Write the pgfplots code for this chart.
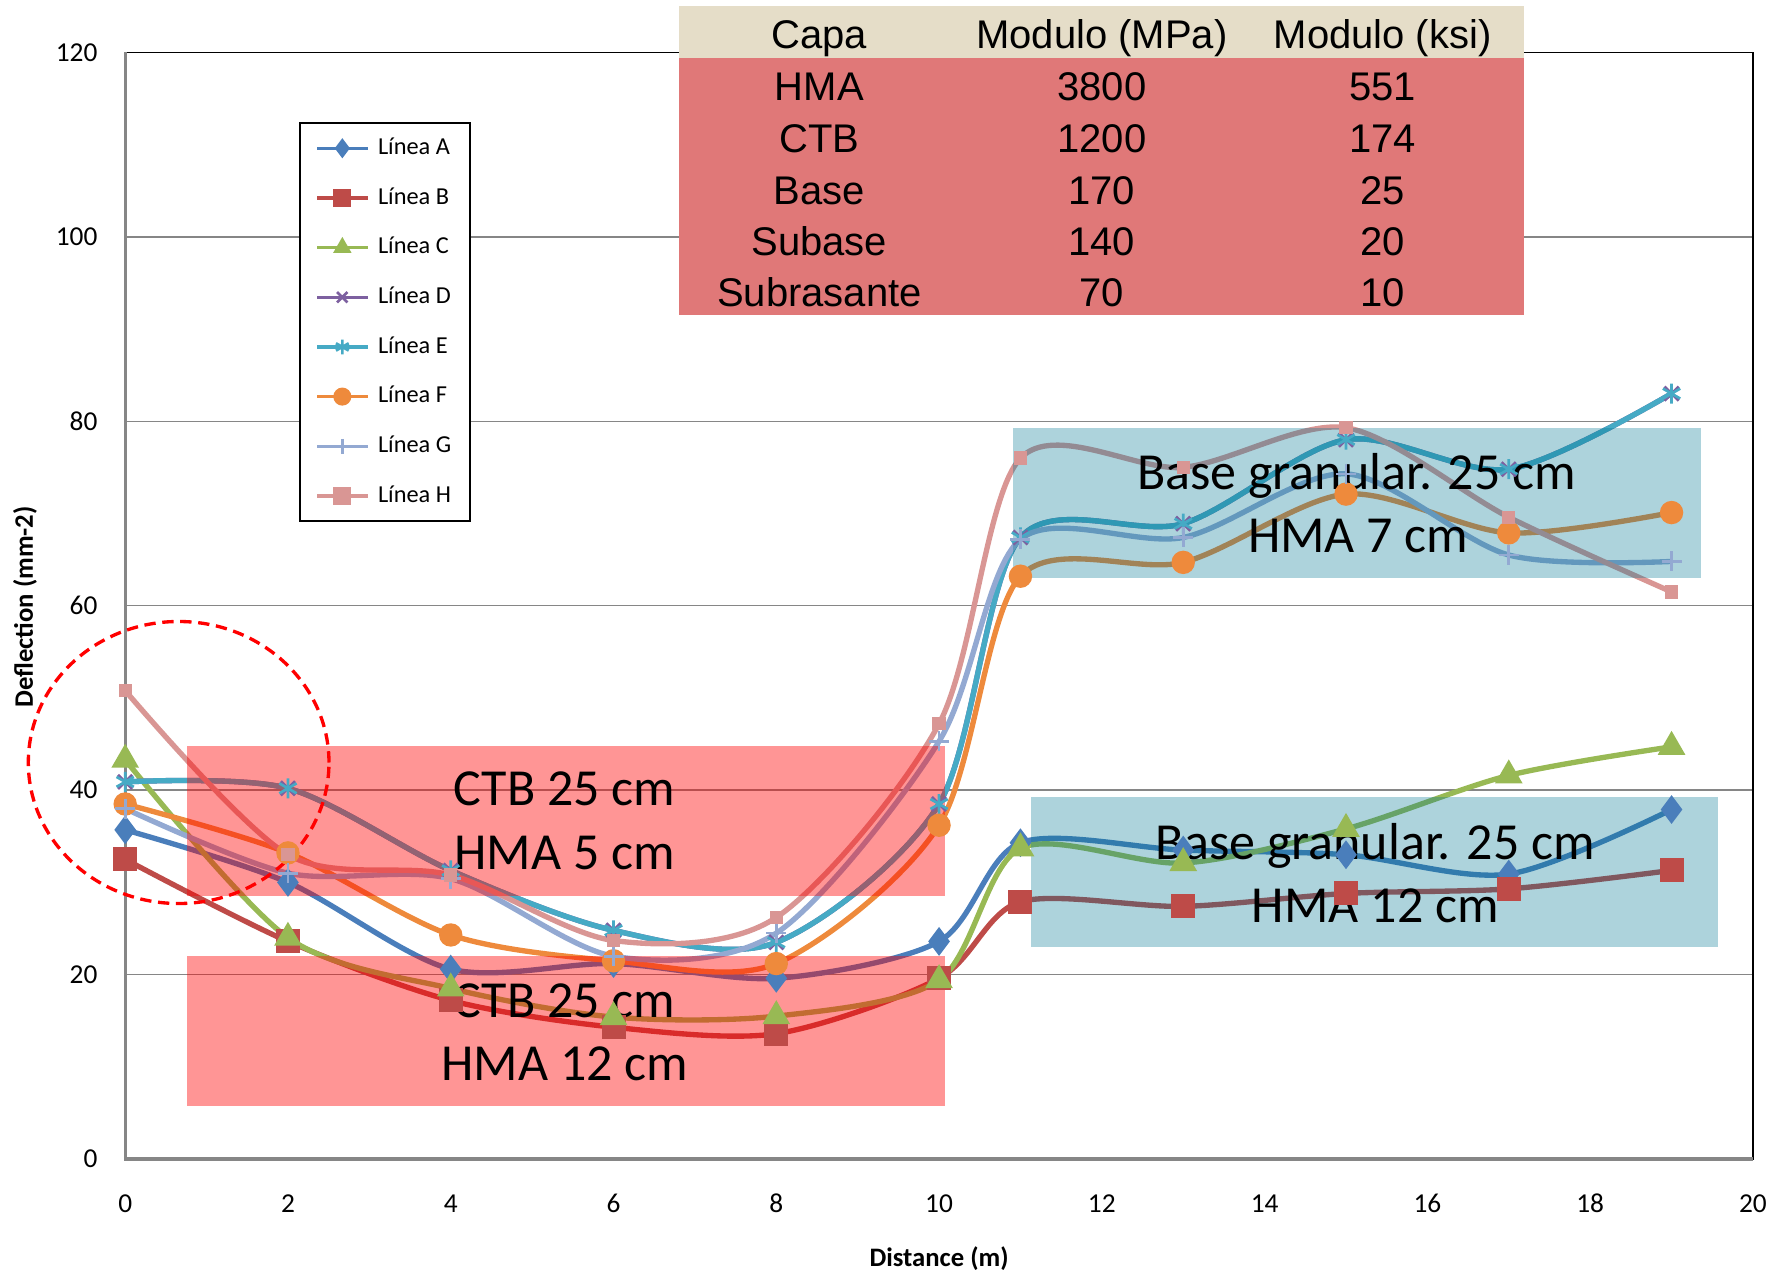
\documentclass[border=0pt]{standalone}
\usepackage{pgfplots}
\usepackage{pgfplotstable}
\pgfplotsset{compat=1.18}
\usepackage{fontspec}
\setmainfont{Carlito}
\newfontfamily\arialfont{Liberation Sans}
\definecolor{cA}{HTML}{4A7EBB}
\definecolor{cB}{HTML}{BE4B48}
\definecolor{cC}{HTML}{98B954}
\definecolor{cD}{HTML}{7D60A0}
\definecolor{cE}{HTML}{46AAC5}
\definecolor{cF}{HTML}{EE8A3C}
\definecolor{cG}{HTML}{93A9D2}
\definecolor{cH}{HTML}{D99694}
\definecolor{gridgray}{HTML}{868686}
\definecolor{boxblue}{RGB}{0,117,146}
\definecolor{tabhead}{HTML}{E5DDC8}
\definecolor{tabbody}{HTML}{E07878}

\pgfplotstableread{
x  A    B    C    D    E    F    G    H
0  35.7 32.5 43.3 40.9 40.9 38.5 38.0 50.8
2  30.0 23.6 24.0 40.2 40.2 33.2 31.0 33.0
4  20.6 17.2 18.5 31.3 31.3 24.3 30.4 30.8
6  21.2 14.3 15.4 24.8 24.8 21.5 22.0 23.7
8  19.6 13.6 15.5 23.5 23.5 21.2 24.5 26.2
10 23.6 19.6 19.4 38.5 38.5 36.2 45.3 47.2
11 34.3 27.9 33.7 67.4 67.4 63.2 67.2 76.0
13 33.5 27.4 32.1 68.9 68.9 64.7 67.4 75.0
15 33.0 28.8 35.8 78.0 78.0 72.1 74.3 79.3
17 30.9 29.3 41.6 74.8 74.8 67.9 65.5 69.6
19 37.9 31.3 44.7 83.0 83.0 70.1 64.8 61.5
}\data

\begin{document}
\begin{tikzpicture}
\begin{axis}[
  scale only axis, width=488.3pt, height=332.0pt,
  xmin=0, xmax=20, ymin=0, ymax=120,
  xtick={0,2,...,20}, ytick={0,20,...,120},
  ymajorgrids,
  major grid style={gridgray, line width=0.45pt},
  axis line style={black, line width=0.5pt},
  tick style={draw=none},
  /pgf/number format/assume math mode=true,
  ticklabel style={font=\fontsize{8.2}{9.8}\selectfont},
  xticklabel style={anchor=center, yshift=-13.3pt},
  yticklabel style={anchor=east, xshift=-4.8pt},
  label style={font=\bfseries\fontsize{8}{9.6}\selectfont},
  xlabel={Distance (m)},
  ylabel={Deflection (mm-2)},
  xlabel style={at={(axis description cs:0.5,-0.0895)}, anchor=center},
  ylabel style={at={(axis description cs:-0.0615,0.499)}, anchor=center},
  clip=false,
  legend style={at={(rel axis cs:0.107,0.937)}, anchor=north west,
    draw=black, line width=0.6pt, fill=white,
    font=\fontsize{7.3}{8.8}\selectfont,
    inner xsep=4.5pt, inner ysep=3.1pt, row sep=6pt,
    nodes={inner sep=1pt, text height=5.3pt, text depth=1.6pt},
    cells={anchor=west},
    /tikz/column 1/.style={column sep=1.6pt}},
  legend image code/.code={\draw[#1, line width=1pt, mark size=2.2pt, mark repeat=2, mark phase=2] plot coordinates {(0pt,0pt) (7.6pt,0pt) (15.2pt,0pt)};},
]
\coordinate (bl) at (rel axis cs:-0.0769,-0.1012);
\coordinate (tr) at (rel axis cs:1.0197,1.0473);
\draw[gridgray, line width=1pt] (rel axis cs:0,1) -- (rel axis cs:0,0) -- (rel axis cs:1,0);

\addplot[cA, line width=1.6pt, smooth, mark=diamond*, mark size=3pt, mark options={solid, fill=cA}] table[x=x, y=A] {\data};
\addlegendentry{Línea A}
\addplot[cB, line width=1.6pt, smooth, mark=square*, mark size=2.8pt, mark options={solid, fill=cB}] table[x=x, y=B] {\data};
\addlegendentry{Línea B}
\addplot[cC, line width=1.6pt, smooth, mark=triangle*, mark size=3.2pt, mark options={solid, fill=cC}] table[x=x, y=C] {\data};
\addlegendentry{Línea C}
\addplot[cD, line width=1.6pt, smooth, mark=x, mark size=3pt, mark options={solid, line width=0.8pt}] table[x=x, y=D] {\data};
\addlegendentry{Línea D}
\addplot[cE, line width=1.6pt, smooth, mark=asterisk, mark size=3pt, mark options={solid, line width=0.8pt}] table[x=x, y=E] {\data};
\addlegendentry{Línea E}
\addplot[cF, line width=1.6pt, smooth, mark=*, mark size=2.7pt, mark options={solid, fill=cF}] table[x=x, y=F] {\data};
\addlegendentry{Línea F}
\addplot[cG, line width=1.6pt, smooth, mark=+, mark size=3pt, mark options={solid, line width=0.8pt}] table[x=x, y=G] {\data};
\addlegendentry{Línea G}
\addplot[cH, line width=1.6pt, smooth, mark=square*, mark size=1.2pt, mark options={solid, fill=cH}] table[x=x, y=H] {\data};
\addlegendentry{Línea H}

% semi-transparent boxes
\fill[red, opacity=0.416] (axis cs:0.755,28.5) rectangle (axis cs:10.07,44.8);
\fill[red, opacity=0.416] (axis cs:0.755,5.8) rectangle (axis cs:10.07,22.0);
\fill[boxblue, opacity=0.32] (axis cs:10.91,63.0) rectangle (axis cs:19.36,79.3);
\fill[boxblue, opacity=0.32] (axis cs:11.13,23.0) rectangle (axis cs:19.57,39.3);

\begin{scope}[every node/.style={font=\fontsize{15.6}{18}\selectfont, anchor=base, inner sep=0pt}]
\node at (axis cs:5.40,38.3) {CTB 25 cm};
\node at (axis cs:5.40,31.4) {HMA 5 cm};
\node at (axis cs:5.40,15.3) {CTB 25 cm};
\node at (axis cs:5.40,8.5) {HMA 12 cm};
\node at (axis cs:15.13,72.6) {Base granular. 25 cm};
\node at (axis cs:15.15,65.8) {HMA 7 cm};
\node at (axis cs:15.36,32.5) {Base granular. 25 cm};
\node at (axis cs:15.36,25.7) {HMA 12 cm};
\end{scope}

% table
\fill[tabhead] (axis cs:6.81,119.4) rectangle (axis cs:17.19,125.06);
\fill[tabbody] (axis cs:6.81,91.5) rectangle (axis cs:17.19,119.4);
\begin{scope}[every node/.style={font=\arialfont\fontsize{12}{14}\selectfont, anchor=base, inner sep=0pt}]
\node at (axis cs:8.53,120.4) {Capa};
\node at (axis cs:12.0,120.4) {Modulo (MPa)};
\node at (axis cs:15.45,120.4) {Modulo (ksi)};
\node at (axis cs:8.53,114.8) {HMA};
\node at (axis cs:12.0,114.8) {3800};
\node at (axis cs:15.45,114.8) {551};
\node at (axis cs:8.53,109.1) {CTB};
\node at (axis cs:12.0,109.1) {1200};
\node at (axis cs:15.45,109.1) {174};
\node at (axis cs:8.53,103.5) {Base};
\node at (axis cs:12.0,103.5) {170};
\node at (axis cs:15.45,103.5) {25};
\node at (axis cs:8.53,98.0) {Subase};
\node at (axis cs:12.0,98.0) {140};
\node at (axis cs:15.45,98.0) {20};
\node at (axis cs:8.53,92.4) {Subrasante};
\node at (axis cs:12.0,92.4) {70};
\node at (axis cs:15.45,92.4) {10};
\end{scope}

% dashed circle
\draw[red, line width=1pt, dash pattern=on 3.4pt off 2pt] (axis cs:0.657,43.0) ellipse [x radius=45.1pt, y radius=42.3pt];
\end{axis}
\pgfresetboundingbox
\useasboundingbox (bl) rectangle (tr);
\end{tikzpicture}
\end{document}
